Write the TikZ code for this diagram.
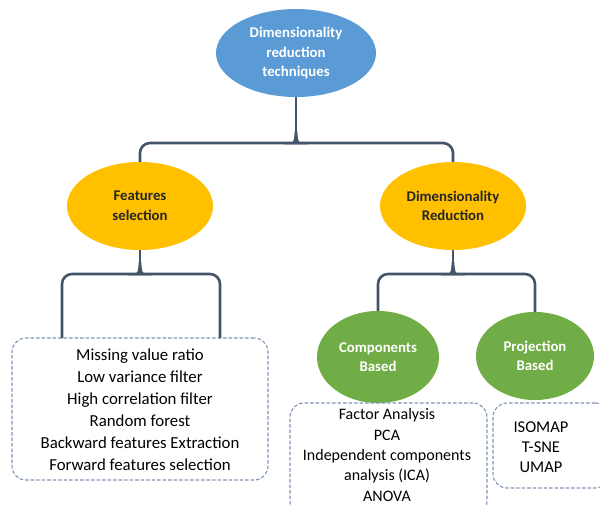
\documentclass[tikz,border=0pt]{standalone}
\usepackage{fontspec}
\setmainfont{Carlito}
\usetikzlibrary{shapes.geometric}
\definecolor{blueF}{HTML}{5B9BD5}
\definecolor{yellowF}{HTML}{FFC000}
\definecolor{greenF}{HTML}{70AD47}
\definecolor{connC}{HTML}{44546A}
\definecolor{dashC}{HTML}{7F93B5}
\definecolor{darkT}{HTML}{262626}
\tikzset{
  ell/.style={ellipse, inner sep=0pt, align=center, font=\fontsize{14.8}{19.5}\selectfont\bfseries},
  conn/.style={draw=connC, line width=2.6pt},
  dbox/.style={draw=dashC, dashed, line width=1.1pt, rounded corners=14pt, dash pattern=on 3.5pt off 2pt},
  btext/.style={align=center, inner sep=0pt},
  flare/.pic={\fill[connC] (-12,1.3) .. controls (-2,0) .. (-1.3,-12) -- (1.3,-12) .. controls (2,0) .. (12,1.3) -- cycle;}
}
\begin{document}
\begin{tikzpicture}[x=1pt,y=-1pt]
\useasboundingbox (0,0) rectangle (600,504);
% ellipses
\node[ell, fill=blueF, text=white, minimum width=160pt, minimum height=88pt] (top) at (296,53) {Dimensionality\\reduction\\techniques};
\node[ell, fill=yellowF, text=darkT, minimum width=146pt, minimum height=88pt] (fs) at (140,206) {Features\\selection};
\node[ell, fill=yellowF, text=darkT, minimum width=146pt, minimum height=88pt] (dr) at (453,206) {Dimensionality\\Reduction};
\node[ell, fill=greenF, text=white, minimum width=122pt, minimum height=92pt] (cb) at (378,357) {Components\\Based};
\node[ell, fill=greenF, text=white, minimum width=118pt, minimum height=88pt] (pb) at (535,356) {Projection\\Based};
% boxes
\node[dbox, minimum width=256pt, minimum height=142pt] (box1) at (140,409) {};
\node[btext, font=\fontsize{16.8}{22}\selectfont] (t1) at (140,410) {Missing value ratio\\Low variance filter\\High correlation filter\\Random forest\\Backward features Extraction\\Forward features selection};
\node[dbox, minimum width=197pt, minimum height=112pt] (box2) at (388.5,459) {};
\node[btext, font=\fontsize{16}{20.3}\selectfont] (t2) at (387,455) {Factor Analysis\\PCA\\Independent components\\analysis (ICA)\\ANOVA};
\node[dbox, minimum width=116pt, minimum height=85pt] (box3) at (551,445.5) {};
\node[btext, font=\fontsize{16.5}{20.3}\selectfont] (t3) at (541,447) {ISOMAP\\T-SNE\\UMAP};
% connectors
\coordinate (j1) at (296,143);
\coordinate (j2) at (140,274);
\coordinate (j3) at (453,274);
\coordinate (b1l) at (62,338);
\coordinate (b1r) at (220,338);
\draw[conn] (top.south) -- (j1);
\draw[conn, rounded corners=10pt] (fs.north) -- (fs.north |- j1) -- (dr.north |- j1) -- (dr.north);
\pic at (j1) {flare};
\draw[conn] (fs.south) -- (j2);
\draw[conn, rounded corners=10pt] (b1l) -- (b1l |- j2) -- (b1r |- j2) -- (b1r);
\pic at (j2) {flare};
\draw[conn] (dr.south) -- (j3);
\draw[conn, rounded corners=10pt] (cb.north) -- (cb.north |- j3) -- (pb.north |- j3) -- (pb.north);
\pic at (j3) {flare};
\end{tikzpicture}
\end{document}
